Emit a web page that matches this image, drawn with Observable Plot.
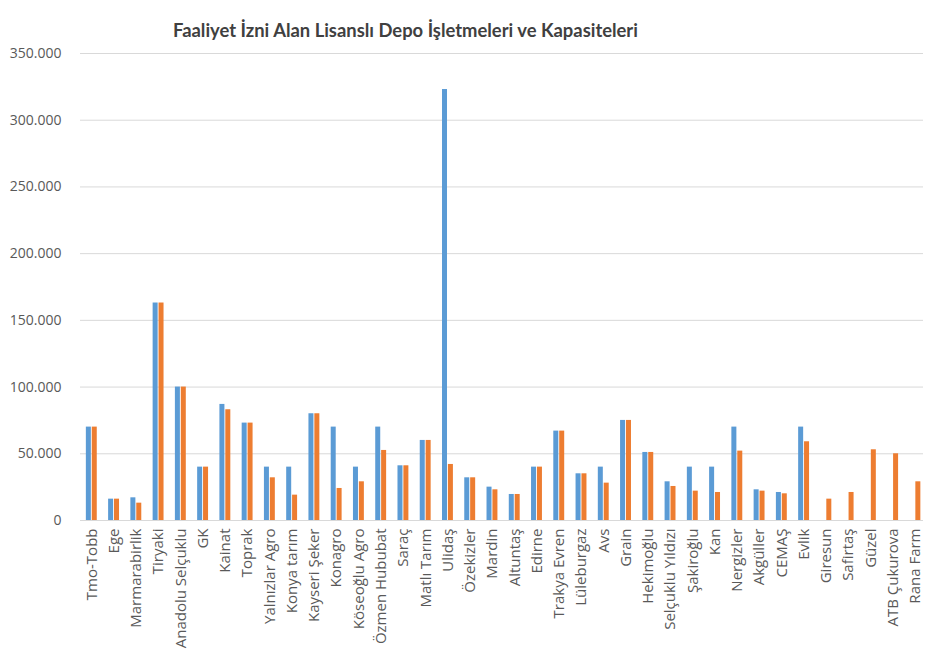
<!DOCTYPE html>
<html>
<head>
<meta charset="utf-8">
<script src="https://cdn.jsdelivr.net/npm/d3@7"></script>
<script src="https://cdn.jsdelivr.net/npm/@observablehq/plot@0.6"></script>
<style>
  html, body { margin: 0; padding: 0; background: #fff; }
  body { width: 935px; height: 664px; overflow: hidden; }
  #title { box-sizing: border-box; height: 45px; padding-top: 19px; padding-left: 173px; line-height: 22px;
           font-family: Lato, "Open Sans", sans-serif; font-weight: bold; font-size: 18.4px; color: #404040; white-space: nowrap; }
</style>
</head>
<body>
<div id="title">Faaliyet İzni Alan Lisanslı Depo İşletmeleri ve Kapasiteleri</div>
<div id="chart"></div>
<script>
const categories = [
  "Tmo-Tobb", "Ege", "Marmarabirlik", "Tiryaki", "Anadolu Selçuklu", "GK", "Kainat", "Toprak",
  "Yalnızlar Agro", "Konya tarım", "Kayseri Şeker", "Konagro", "Köseoğlu Agro", "Özmen Hububat",
  "Saraç", "Matlı Tarım", "Ulidaş", "Özekizler", "Mardin", "Altuntaş", "Edirne", "Trakya Evren",
  "Lüleburgaz", "Avs", "Grain", "Hekimoğlu", "Selçuklu Yıldızı", "Şakiroğlu", "Kan", "Nergizler",
  "Akgüller", "CEMAŞ", "Evlik", "Giresun", "Safirtaş", "Güzel", "ATB Çukurova", "Rana Farm"
];
// blue series
const seriesBlue = [
  70000, 16000, 17000, 163000, 100000, 40000, 87000, 73000,
  40000, 40000, 80000, 70000, 40000, 70000,
  41000, 60000, 323000, 32000, 25000, 19500, 40000, 67000,
  35000, 40000, 75000, 51000, 29000, 40000, 40000, 70000,
  23000, 21000, 70000, null, null, null, null, null
];
// orange series
const seriesOrange = [
  70000, 16000, 13000, 163000, 100000, 40000, 83000, 73000,
  32000, 19000, 80000, 24000, 29000, 52500,
  41000, 60000, 42000, 32000, 23000, 19500, 40000, 67000,
  35000, 28000, 75000, 51000, 25500, 22000, 21000, 52000,
  22000, 20000, 59000, 16000, 21000, 53000, 50000, 29000
];
const yTicks = [0, 50000, 100000, 150000, 200000, 250000, 300000, 350000];

const data = categories.map((c, i) => ({c, blue: seriesBlue[i], orange: seriesOrange[i]}));
const fmt = d => d3.format(",")(d).replace(/,/g, ".");

const chart = Plot.plot({
  width: 935,
  height: 619,
  marginTop: 8,
  marginBottom: 144,
  marginLeft: 80,
  marginRight: 12,
  style: {fontFamily: "'Open Sans', sans-serif", fontSize: "14px", color: "#595959", background: "#fff", overflow: "visible"},
  x: {domain: categories, padding: 0.51, range: [74.5, 931.7], round: false, label: null},
  y: {domain: [0, 350000], label: null},
  marks: [
    Plot.gridY(yTicks, {stroke: "#d9d9d9", strokeOpacity: 1}),
    Plot.barY(data.filter(d => d.blue != null), {x: "c", y: "blue", fill: "#5B9BD5", insetRight: 5.9}),
    Plot.barY(data.filter(d => d.orange != null), {x: "c", y: "orange", fill: "#ED7D31", insetLeft: 5.9}),
    Plot.axisY(yTicks, {tickFormat: fmt, tickSize: 0, tickPadding: 19, fontSize: 14, label: null}),
    Plot.axisX({tickRotate: -90, tickSize: 0, tickPadding: 8, fontSize: 15, label: null})
  ]
});
document.getElementById("chart").appendChild(chart);
</script>
</body>
</html>
